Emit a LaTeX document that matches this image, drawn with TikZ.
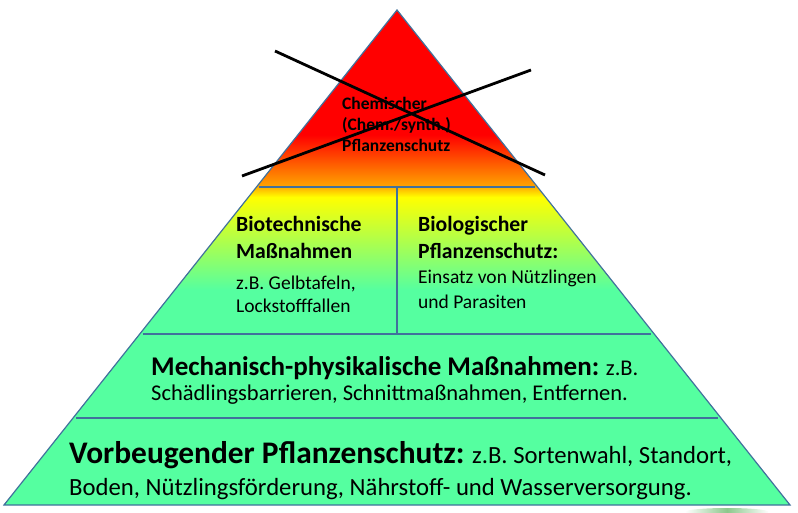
\documentclass[tikz,border=0pt]{standalone}
\usepackage{fontspec}
\setmainfont{Carlito}
\usetikzlibrary{calc}
\definecolor{pyblue}{RGB}{65,113,156}
\definecolor{pygreen}{RGB}{85,255,160}
\definecolor{pyorange}{RGB}{255,160,0}
\definecolor{pyshadow}{RGB}{140,200,140}
\pgfdeclareverticalshading{pyrshade}{100bp}{color(0bp)=(pygreen); color(46.7bp)=(pygreen); color(56.1bp)=(yellow); color(57.3bp)=(pyorange); color(62.4bp)=(red); color(100bp)=(red)}
\tikzset{
  sepline/.style={pyblue,line width=2.2pt},
  txt/.style={anchor=base west,inner sep=0pt,align=left},
  crossline/.style={black,line width=2.8pt}
}
\newcommand{\fsz}[2]{\fontsize{#1}{#2}\selectfont}
\begin{document}
\begin{tikzpicture}[x=1pt,y=1pt]
\useasboundingbox (0,0) rectangle (798,512);
\begin{scope}
\clip (0,0) rectangle (798,512);
\shade[left color=white,right color=white,middle color=pyshadow] (727,0) ellipse (42 and 4);
\end{scope}
\coordinate (top) at (397,502);
\coordinate (bl) at (4,7);
\coordinate (br) at (790,7);
\shadedraw[shading=pyrshade,draw=pyblue,line width=1.2pt] (top)--(bl)--(br)--cycle;
\foreach \f/\n in {0.3576/a,0.6545/b,0.8242/c}{
  \coordinate (l\n) at ($(top)!\f!(bl)$);
  \coordinate (r\n) at ($(top)!\f!(br)$);
  \draw[sepline] ($(l\n)!3pt!(r\n)$)--($(r\n)!3pt!(l\n)$);}
\draw[sepline] (la -| top) -- (lb -| top);
\node[txt,font=\fsz{17.5}{21}\bfseries] (chem) at (342,360.3) {Chemischer\\(Chem./synth.)\\Pflanzenschutz};
\node[txt,font=\fsz{21.7}{26.5}\bfseries] (biotech) at (236,253.7) {Biotechnische\\Maßnahmen};
\node[txt,font=\fsz{19.5}{23}] (biotechtxt) at (236,199.7) {z.B. Gelbtafeln,\\Lockstofffallen};
\node[txt,font=\fsz{21.7}{26.5}\bfseries] (biolog) at (418,253.7) {Biologischer\\Pflanzenschutz:};
\node[txt,font=\fsz{19.5}{24.3}] (biologtxt) at (418,203.7) {Einsatz von Nützlingen\\und Parasiten};
\node[txt,font=\fsz{22.5}{25}] (mech) at (151,112) {{\fsz{27}{25}\bfseries Mechanisch-physikalische Maßnahmen:} z.B.\\Schädlingsbarrieren, Schnittmaßnahmen, Entfernen.};
\node[txt,font=\fsz{24.7}{32}] (vorb) at (69,16.5) {{\fsz{31.4}{32}\bfseries Vorbeugender Pflanzenschutz:} z.B. Sortenwahl, Standort,\\Boden, Nützlingsförderung, Nährstoff- und Wasserversorgung.};
\coordinate (x1) at (275,461);
\coordinate (x2) at (545,337);
\coordinate (x3) at (242,336);
\coordinate (x4) at (531,442);
\draw[crossline] (x1) -- (x2);
\draw[crossline] (x3) -- (x4);
\end{tikzpicture}
\end{document}
